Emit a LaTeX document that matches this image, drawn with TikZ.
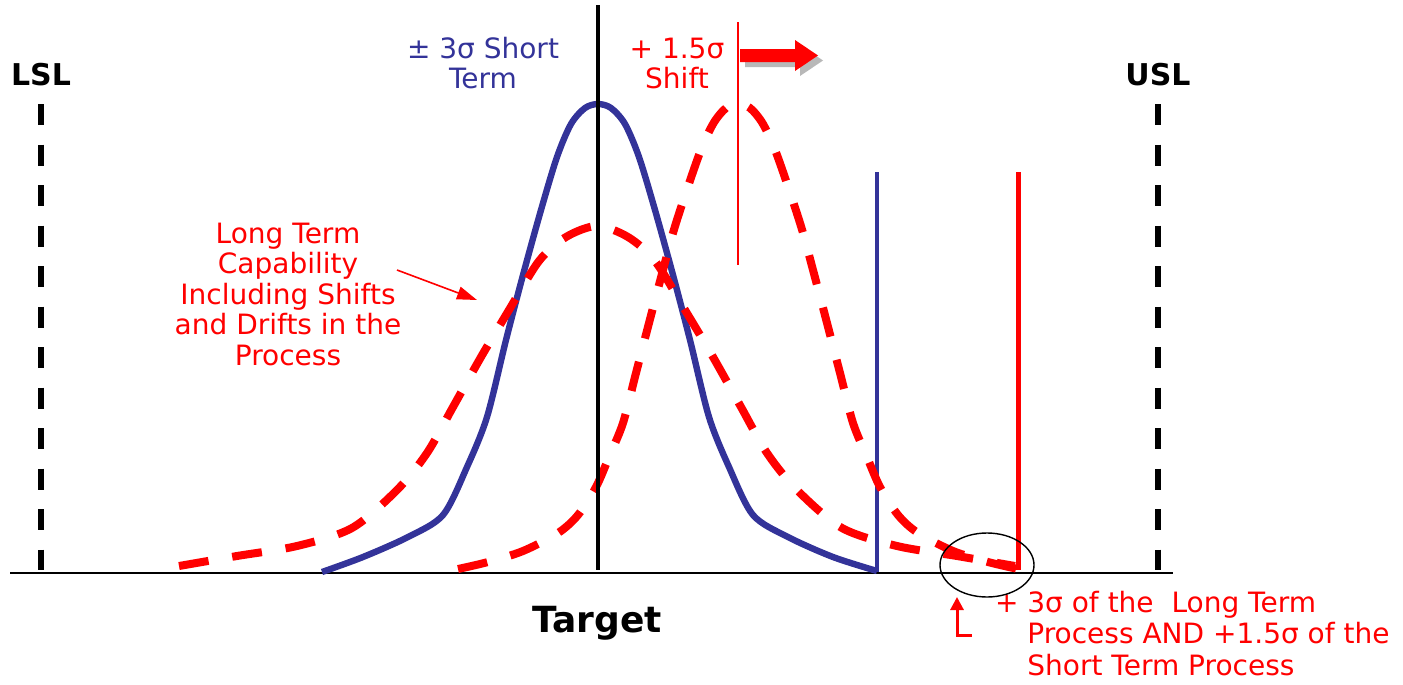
\documentclass[tikz,border=0pt]{standalone}
\usepackage{fontspec}
\setmainfont{DejaVu Sans}
\usetikzlibrary{arrows.meta}
\definecolor{cblue}{HTML}{333399}
\definecolor{cred}{HTML}{FF0000}
\definecolor{cshadow}{HTML}{B8B8B8}
\newcommand\mlc[1]{\begin{tabular}[t]{@{}c@{}}#1\end{tabular}}
\newcommand\mll[1]{\begin{tabular}[t]{@{}l@{}}#1\end{tabular}}
\tikzset{
  lbl/.style={inner sep=0pt, anchor=base, font=\fontsize{14}{15.25}\selectfont},
  redlbl/.style={lbl, text=cred},
  bluelbl/.style={lbl, text=cblue},
  limlbl/.style={inner sep=0pt, anchor=base, font=\fontsize{15}{18}\selectfont\bfseries},
  speclimit/.style={line width=3pt, dash pattern=on 10.5pt off 9.75pt},
  bluecurve/.style={cblue, line width=3.2pt, line join=round},
  reddash/.style={cred, line width=4pt, dash pattern=on 15pt off 12pt},
}
\begin{document}
\begin{tikzpicture}[x=0.5pt,y=-0.5pt]
\useasboundingbox (0,0) rectangle (1403,685);
% axis
\draw[line width=1pt] (10,573) -- (1173,573);
% spec limits
\node[limlbl] (lsl) at (41,85) {LSL};
\node[limlbl] (usl) at (1158,85) {USL};
\coordinate (lslb) at (41,570);
\coordinate (uslb) at (1158,570);
\draw[speclimit] (41,104) -- (lslb);
\draw[speclimit] (1158,104) -- (uslb);
% short-term blue curve
\draw[bluecurve] plot[smooth] coordinates {(322,572) (363,557) (408,537) (443,515) (467,467) (487,417) (506,340) (523,275) (541,210) (557,157) (571,124) (585,108) (598,104) (611,108) (625,124) (639,157) (655,210) (673,275) (690,340) (709,417) (729,467) (753,515) (788,537) (833,557) (877,571)};
\draw[cblue, line width=2.3pt] (877,572) -- (877,172);
% long-term wide red curve
\draw[reddash] plot[smooth] coordinates {(179,566) (237,556) (297,546) (352,528) (397,490) (427,453) (453,407) (481,357) (509,310) (539,261) (566,237) (597,226) (628,237) (655,261) (685,310) (713,357) (741,407) (767,453) (797,490) (842,528) (897,546) (957,556) (1015,566)};
% shifted red curve
\draw[reddash] plot[smooth] coordinates {(458,569) (488,562) (523,551) (558,533) (578,515) (596,487) (609,457) (623,423) (636,373) (649,323) (663,270) (676,223) (699,155) (713,124) (726,108) (738,104) (750,108) (763,124) (777,155) (800,223) (813,270) (827,323) (840,373) (853,423) (867,457) (880,487) (898,515) (918,533) (953,551) (988,562) (1018,569)};
\draw[cred, line width=2.5pt] (1018,570) -- (1018,172);
% target line
\draw[line width=2pt] (598,5) -- (598,570);
% shift marker and arrow
\draw[cred, line width=1pt] (738,22) -- (738,265);
\fill[cshadow] (745,54) -- (800,54) -- (800,45) -- (823,60.5) -- (800,76) -- (800,67) -- (745,67) -- cycle;
\fill[cred] (740,49) -- (795,49) -- (795,40) -- (818,55.5) -- (795,71) -- (795,62) -- (740,62) -- cycle;
% labels
\node[bluelbl] (st) at (483,58) {\mlc{± 3σ Short\\Term}};
\node[redlbl] (sh) at (677,58) {\mlc{+ 1.5σ\\Shift}};
\node[redlbl] (lt) at (288,243) {\mlc{Long Term\\Capability\\Including Shifts\\and Drifts in the\\Process}};
\node[inner sep=0pt, anchor=base, font=\fontsize{18}{22}\selectfont\bfseries] (tg) at (597,632) {Target};
\node[redlbl, anchor=base west, font=\fontsize{14}{15.75}\selectfont] (note) at (1027,612) {\mll{\llap{+ }3σ of the\ \ Long Term\\Process AND +1.5σ of the\\Short Term Process}};
% long-term arrow
\coordinate (ltfrom) at (397,270);
\coordinate (ltto) at (477,300);
\draw[cred, line width=0.8pt, -{Triangle[length=10pt,width=6.5pt]}] (ltfrom) -- (ltto);
% circle and note arrow
\draw[line width=0.7pt] (987,565) ellipse [x radius=47, y radius=32];
\coordinate (nfoot) at (972,635);
\coordinate (ncorner) at (957,635);
\coordinate (ntip) at (957,597);
\draw[cred, line width=1.5pt, -{Triangle[length=6.5pt,width=6.5pt]}] (nfoot) -- (ncorner) -- (ntip);
\end{tikzpicture}
\end{document}
